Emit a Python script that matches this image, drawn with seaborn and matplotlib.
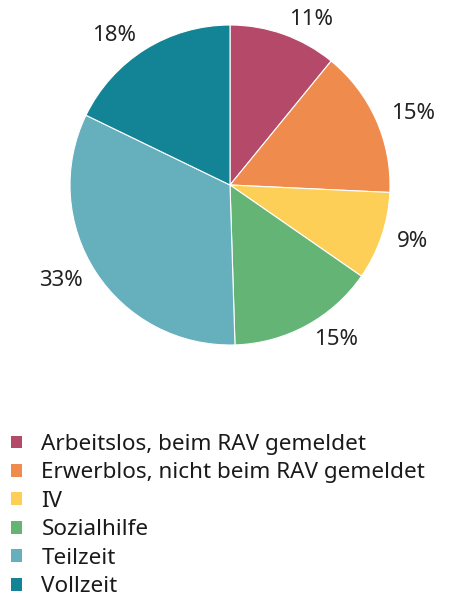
import matplotlib
matplotlib.use("Agg")
import matplotlib.pyplot as plt
import seaborn as sns

categories = ["Arbeitslos, beim RAV gemeldet", "Erwerblos, nicht beim RAV gemeldet",
              "IV", "Sozialhilfe", "Teilzeit", "Vollzeit"]
values = [11, 15, 9, 15, 33, 18]
pct_labels = ["11%", "15%", "9%", "15%", "33%", "18%"]
colors = ["#B5496A", "#EE8B4D", "#FDCF57", "#64B475", "#66AFBC", "#138396"]

sns.set_theme(style="white")
plt.rcParams["font.family"] = ["Noto Sans", "DejaVu Sans"]

W, H = 455, 598
fig = plt.figure(figsize=(W / 100, H / 100), dpi=100)
cx, cy, r = 230, 185, 160
ax = fig.add_axes([(cx - r) / W, (H - cy - r) / H, 2 * r / W, 2 * r / H])
wedges, texts = ax.pie(values, labels=pct_labels, colors=colors, startangle=90,
                       counterclock=False, labeldistance=1.1,
                       wedgeprops=dict(edgecolor="white", linewidth=0.8),
                       textprops=dict(fontsize=16, color="#222222"))
ax.set_xlim(-1, 1)
ax.set_ylim(-1, 1)
ax.set_aspect("equal")

leg = fig.legend(wedges, categories, loc="upper left",
                 bbox_to_anchor=(11 / W, 1 - 434 / H), frameon=False,
                 fontsize=16.2, handlelength=0.5, handleheight=0.5,
                 handletextpad=0.85, labelspacing=0.33, borderpad=0,
                 borderaxespad=0)
for t in leg.get_texts():
    t.set_color("#1a1a1a")
for h in leg.legend_handles:
    h.set_edgecolor("none")

fig.savefig("out.png", dpi=100)
